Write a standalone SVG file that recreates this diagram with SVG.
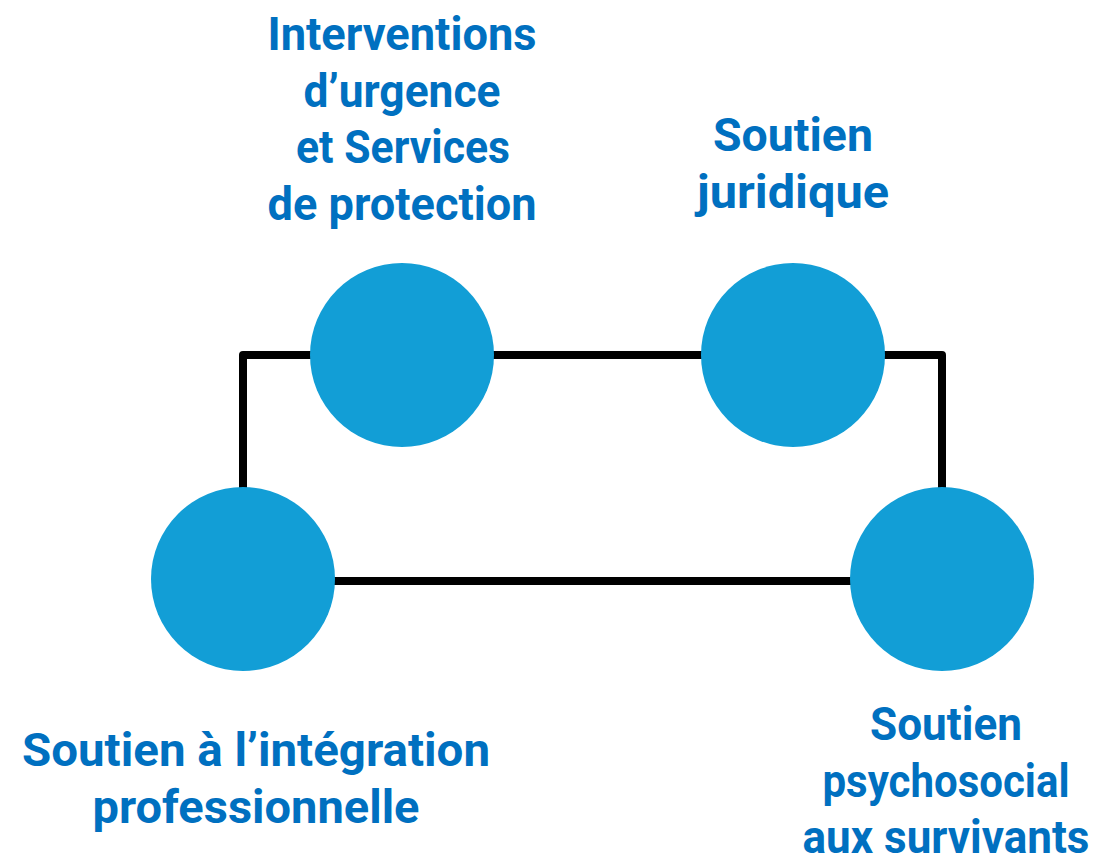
<svg xmlns="http://www.w3.org/2000/svg" width="1097" height="859" viewBox="0 0 1097 859">
<style>
.node{fill:#129ED6}
.lbl{font-family:Roboto,"Liberation Sans",sans-serif;font-weight:bold;font-size:46px;fill:#0070C0;text-anchor:middle}
.conn{fill:none;stroke:#000;stroke-width:8;stroke-linejoin:round}
</style>
<rect width="1097" height="859" fill="#fff"/>
<g id="connectors">
<polyline class="conn" points="243,490 243,355 312,355"/>
<line class="conn" x1="492" y1="355" x2="702" y2="355"/>
<polyline class="conn" points="883,355 942,355 942,490"/>
<line class="conn" x1="333" y1="581" x2="852" y2="581"/>
</g>
<g id="node-urgence">
<circle class="node" cx="402" cy="355" r="92"/>
<text class="lbl" x="402" y="50" textLength="269" lengthAdjust="spacingAndGlyphs">Interventions</text>
<text class="lbl" x="402" y="107" textLength="197" lengthAdjust="spacingAndGlyphs">d’urgence</text>
<text class="lbl" x="403" y="163" textLength="214" lengthAdjust="spacingAndGlyphs">et Services</text>
<text class="lbl" x="402" y="220" textLength="269" lengthAdjust="spacingAndGlyphs">de protection</text>
</g>
<g id="node-juridique">
<circle class="node" cx="793" cy="355" r="92"/>
<text class="lbl" x="793" y="151" textLength="160" lengthAdjust="spacingAndGlyphs">Soutien</text>
<text class="lbl" x="793" y="208" textLength="192" lengthAdjust="spacingAndGlyphs">juridique</text>
</g>
<g id="node-integration">
<circle class="node" cx="243" cy="579" r="92"/>
<text class="lbl" x="256" y="766" textLength="468" lengthAdjust="spacingAndGlyphs">Soutien à l’intégration</text>
<text class="lbl" x="256" y="823" textLength="327" lengthAdjust="spacingAndGlyphs">professionnelle</text>
</g>
<g id="node-psychosocial">
<circle class="node" cx="942" cy="579" r="92"/>
<text class="lbl" x="946" y="740" textLength="152" lengthAdjust="spacingAndGlyphs">Soutien</text>
<text class="lbl" x="946" y="797" textLength="247" lengthAdjust="spacingAndGlyphs">psychosocial</text>
<text class="lbl" x="946" y="853" textLength="287" lengthAdjust="spacingAndGlyphs">aux survivants</text>
</g>
</svg>
